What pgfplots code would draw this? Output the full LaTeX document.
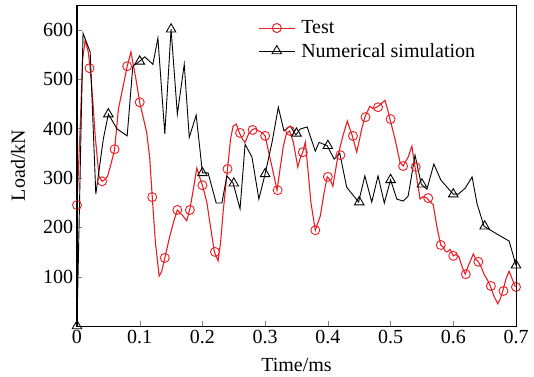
\documentclass[border=0pt]{standalone}
\usepackage{fontspec}
\setmainfont{Liberation Serif}
\usepackage{pgfplots}
\pgfplotsset{compat=1.18}
\definecolor{testred}{RGB}{235,30,35}
\begin{document}
\begin{tikzpicture}
\begin{axis}[
  scale only axis, width=439pt, height=321pt,
  xmin=0, xmax=0.7, ymin=0, ymax=650,
  axis lines=box,
  xtick={0,0.1,...,0.7}, ytick={100,200,...,600},
  xticklabels={0,0.1,0.2,0.3,0.4,0.5,0.6,0.7},
  xtick pos=bottom, ytick pos=left, tick align=inside, major tick length=5pt,
  /pgf/number format/assume math mode=true,
  every axis/.append style={line width=1pt},
  ticklabel style={font=\fontsize{20}{24}\selectfont},
  label style={font=\fontsize{20}{24}\selectfont},
  xlabel={Time/ms}, ylabel={Load/kN},
  xlabel style={yshift=-8pt}, ylabel style={yshift=11pt},
  legend style={draw=none, fill=none, at={(0.405,0.965)}, anchor=north west,
    font=\fontsize{20}{24}\selectfont, row sep=4pt,
    /tikz/every odd column/.append style={column sep=4pt}},
  legend cell align=left,
  legend image code/.code={\draw[mark repeat=2,mark phase=2,#1] plot coordinates {(0pt,0pt) (18pt,0pt) (36pt,0pt)};},
]
\addlegendimage{testred, line width=1pt, mark=o, mark size=4.5pt, mark options={fill=white}}
\addlegendentry{Test}
\addlegendimage{black, line width=0.9pt, mark=triangle, mark size=5.5pt, mark options={fill=white}}
\addlegendentry{Numerical simulation}
% Test curve
\addplot[testred, line width=1.1pt, forget plot] coordinates {
(0.000,245)(0.005,400)(0.009,540)(0.013,579)(0.018,555)(0.021,522)(0.025,460)(0.029,385)
(0.035,304)(0.040,293)(0.045,297)(0.049,304)(0.055,332)(0.060,358)(0.066,439)(0.072,476)
(0.080,526)(0.086,555)(0.089,534)(0.094,500)(0.100,453)(0.106,420)(0.111,393)(0.116,340)
(0.120,261)(0.125,170)(0.131,101)(0.135,110)(0.140,138)(0.148,182)(0.155,215)(0.160,235)
(0.165,228)(0.169,223)(0.175,213)(0.180,237)(0.186,280)(0.191,320)(0.196,300)(0.200,285)
(0.207,251)(0.213,200)(0.219,150)(0.225,132)(0.229,170)(0.233,231)(0.240,318)(0.245,380)
(0.249,405)(0.254,409)(0.259,391)(0.264,378)(0.268,372)(0.274,390)(0.279,397)(0.284,400)
(0.289,395)(0.295,392)(0.300,385)(0.306,350)(0.311,322)(0.319,275)(0.324,320)(0.329,364)
(0.334,390)(0.339,395)(0.345,372)(0.352,322)(0.356,340)(0.360,352)(0.364,372)(0.368,320)
(0.373,250)(0.380,194)(0.388,223)(0.394,270)(0.399,302)(0.404,295)(0.408,283)(0.416,344)
(0.424,385)(0.431,415)(0.435,400)(0.439,385)(0.446,352)(0.450,375)(0.454,399)(0.459,423)
(0.467,445)(0.472,440)(0.478,443)(0.485,450)(0.491,457)(0.495,440)(0.499,419)(0.507,379)
(0.515,332)(0.520,324)(0.528,342)(0.534,364)(0.539,322)(0.547,257)(0.552,262)(0.558,259)
(0.564,250)(0.568,246)(0.574,200)(0.580,164)(0.584,160)(0.587,152)(0.590,150)(0.595,155)
(0.600,142)(0.604,145)(0.609,140)(0.614,120)(0.619,105)(0.625,125)(0.632,146)(0.636,135)
(0.640,130)(0.645,118)(0.649,105)(0.655,92)(0.659,81)(0.665,60)(0.671,45)(0.675,55)
(0.679,71)(0.684,95)(0.689,111)(0.694,95)(0.699,79)
};
\addplot[testred, only marks, mark=o, mark size=4.5pt, line width=0.9pt, mark options={fill=white}, forget plot] coordinates {
(0,245)(0.02,522)(0.04,293)(0.06,358)(0.08,526)(0.10,453)(0.12,261)(0.14,138)(0.16,235)
(0.18,235)(0.20,285)(0.22,150)(0.24,318)(0.26,391)(0.28,397)(0.30,385)(0.32,275)(0.34,395)
(0.36,352)(0.38,194)(0.40,302)(0.42,346)(0.44,385)(0.46,423)(0.48,443)(0.50,419)(0.52,324)
(0.54,322)(0.56,259)(0.58,164)(0.60,142)(0.62,105)(0.64,130)(0.66,81)(0.68,71)(0.70,79)
};
% Numerical simulation
\addplot[black, line width=0.9pt, forget plot] coordinates {
(0,0)(0.0096,593)(0.021,555)(0.030,267)(0.042,379)(0.050,429)(0.064,399)(0.080,385)
(0.089,526)(0.100,536)(0.108,545)(0.121,530)(0.129,583)(0.140,389)(0.150,601)(0.160,429)
(0.171,530)(0.179,382)(0.190,427)(0.196,358)(0.200,310)(0.209,310)(0.222,249)(0.231,249)
(0.239,304)(0.249,289)(0.260,237)(0.268,368)(0.279,342)(0.290,257)(0.300,308)(0.311,372)
(0.321,443)(0.330,395)(0.340,405)(0.349,387)(0.356,399)(0.367,403)(0.380,354)(0.386,372)
(0.399,365)(0.410,338)(0.419,350)(0.430,281)(0.449,251)(0.459,304)(0.470,251)(0.480,304)
(0.490,249)(0.500,296)(0.510,257)(0.520,253)(0.528,263)(0.539,346)(0.549,287)(0.558,277)
(0.569,328)(0.580,296)(0.590,281)(0.600,267)(0.608,267)(0.619,279)(0.630,302)(0.638,247)
(0.649,202)(0.670,186)(0.689,172)(0.700,123)
};
\addplot[black, only marks, mark=triangle, mark size=5.5pt, line width=0.9pt, mark options={fill=white}, forget plot] coordinates {
(0,0)(0.05,429)(0.1,536)(0.15,601)(0.2,310)(0.25,289)(0.3,308)(0.35,390)(0.4,365)
(0.45,251)(0.5,296)(0.55,287)(0.6,267)(0.65,202)(0.7,123)
};
\end{axis}
\draw[black, line width=1pt] (current axis.south west) rectangle (current axis.north east);
\path (current axis.south west) ++(-77pt,-50pt) rectangle ++(534pt,376pt);
\end{tikzpicture}
\end{document}
